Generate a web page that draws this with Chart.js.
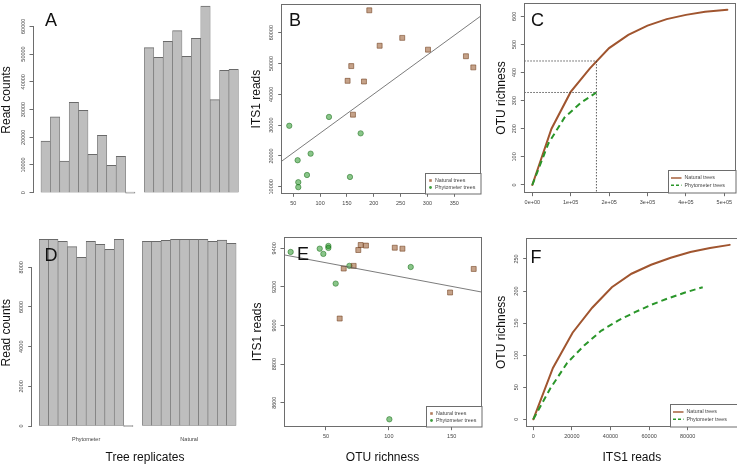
<!DOCTYPE html>
<html>
<head>
<meta charset="utf-8">
<title>Read counts, ITS1 reads and OTU richness</title>
<script src="https://cdn.jsdelivr.net/npm/chart.js@4.4.1/dist/chart.umd.min.js"></script>
<style>
  html, body { margin: 0; padding: 0; background: #fff; }
  body { position: relative; width: 737px; height: 465px; overflow: hidden; }
  canvas { position: absolute; }
  .tag { position: absolute; z-index: 2; font: 18px/18px "Liberation Sans", Arial, sans-serif; color: #111; }
</style>
</head>
<body>
<div class="tag" style="left:45px;top:10.7px">A</div>
<div class="tag" style="left:289px;top:11px">B</div>
<div class="tag" style="left:531px;top:11px">C</div>
<div class="tag" style="left:44.5px;top:246px">D</div>
<div class="tag" style="left:297px;top:244.5px">E</div>
<div class="tag" style="left:530.5px;top:247.5px">F</div>
<script>
// ---- data ----
const groups = ["Phytometer", "Natural"];
const series = ["Natural trees", "Phytometer trees"];

// A: raw read counts per tree (10th phytometer tree has no reads)
const readsPhytoA = [18630, 27400, 11420, 32570, 29690, 13820, 20670, 9860, 13100, 0];
const readsNaturalA = [52290, 48800, 54570, 58420, 49160, 55650, 67310, 33540, 44110, 44470];
const ticksA = [0, 10000, 20000, 30000, 40000, 50000, 60000];

// D: read counts after rarefying
const readsPhytoD = [9411, 9411, 9311, 9038, 8504, 9311, 9159, 8907, 9411, 0];
const readsNaturalD = [9311, 9311, 9361, 9411, 9411, 9411, 9411, 9311, 9376, 9210];
const ticksD = [0, 2000, 4000, 6000, 8000];

// B: OTU richness vs ITS1 reads (raw)
const otuNaturalB = [191.6, 253, 210.9, 301, 371.7, 385.4, 158, 151.2, 181.7, 161.2];
const itsNaturalB = [67240, 58300, 55750, 54480, 52350, 48730, 49150, 44370, 44150, 33400];
const otuPhytoB = [42.5, 116.5, 175.5, 82.3, 58.1, 75.5, 59.3, 59.3, 155.6];
const itsPhytoB = [29790, 32660, 27340, 20750, 18620, 13830, 11490, 9890, 13190];
const fitXB = [28.4, 399.2];
const fitYB = [18310, 65370];
const ticksBx = [50, 100, 150, 200, 250, 300, 350];
const ticksBy = [10000, 20000, 30000, 40000, 50000, 60000];

// C: rarefaction curves (raw)
const depthNaturalC = [0, 50000, 100000, 150000, 200000, 250000, 300000, 350000, 400000, 450000, 508000];
const otuNaturalC = [0, 200, 331, 415, 487, 534, 567, 590, 605, 616, 623];
const depthPhytoC = [0, 42000, 84000, 126000, 167000];
const otuPhytoC = [0, 148, 240, 292, 329];
const cutDepthC = 167000;
const cutNaturalC = 441;
const cutPhytoC = 329;
const ticksCx = [0, 100000, 200000, 300000, 400000, 500000];
const tickLabelsCx = ["0e+00", "1e+05", "2e+05", "3e+05", "4e+05", "5e+05"];
const ticksCy = [0, 100, 200, 300, 400, 500, 600];

// E: OTU richness vs ITS1 reads (rarefied)
const otuNaturalE = [77.6, 81.8, 75.7, 104.7, 110.8, 64.1, 72, 60.9, 148.7, 167.5];
const itsNaturalE = [9417, 9414, 9391, 9403, 9398, 9295, 9309, 9036, 9171, 9293];
const otuPhytoE = [21.9, 45, 47.9, 51.9, 51.9, 68.6, 57.7, 117.4, 100.4];
const itsPhytoE = [9381, 9398, 9371, 9412, 9402, 9309, 9217, 9303, 8514];
const fitXE = [16.6, 173.3];
const fitYE = [9366, 9174];
const ticksEx = [50, 100, 150];
const ticksEy = [8600, 8800, 9000, 9200, 9400];

// F: rarefaction curves (rarefied)
const depthNaturalF = [0, 10170, 20350, 30520, 40700, 50870, 61040, 71220, 81390, 91570, 101740];
const otuNaturalF = [0, 80, 135, 174, 206, 227, 241, 252, 261, 267, 272];
const depthPhytoF = [0, 8778, 17556, 26334, 35112, 43890, 52668, 61446, 70224, 79002, 87780];
const otuPhytoF = [0, 48, 88, 115, 138, 154, 167, 179, 189, 198, 206];
const ticksFx = [0, 20000, 40000, 60000, 80000];
const ticksFy = [0, 50, 100, 150, 200, 250];

// ---- styling ----
const FONT = '"Liberation Sans", Arial, sans-serif';
const INK = "#6d6d6d";
const LABEL = "#444";
const TITLE = "#111";
const TICK_SIZE = 5.5;
const TICK_LEN = 3.5;
const BAR_FILL = "#bebebe";
const BAR_EDGE = "#6a6a6a";
const NAT_FILL = "rgba(139, 69, 19, 0.5)";
const NAT_EDGE = "rgba(110, 60, 25, 0.7)";
const PHY_FILL = "rgba(20, 139, 20, 0.5)";
const PHY_EDGE = "rgba(10, 100, 10, 0.6)";
const BROWN = "#a0552f";
const GREEN = "#2a962a";

Chart.defaults.font.family = FONT;
Chart.defaults.animation = false;
Chart.defaults.responsive = false;

const measure = document.createElement("canvas").getContext("2d");
function textWidth(s, size) {
    measure.font = size + "px " + FONT;
    return measure.measureText(s).width;
}

function place(x, y, w, h) {
    const c = document.createElement("canvas");
    c.width = w;
    c.height = h;
    c.style.left = x + "px";
    c.style.top = y + "px";
    document.body.insertBefore(c, document.body.firstChild);
    return c;
}

const align = (chart, v) => Math.round(v - 0.5) + 0.5;

// box round the plot region
const frame = {
    id: "frame",
    afterDatasetsDraw(chart, args, o) {
        if (!o.on) return;
        const { ctx, chartArea: a } = chart;
        const l = align(chart, a.left), t = align(chart, a.top);
        ctx.save();
        ctx.strokeStyle = INK;
        ctx.lineWidth = 1;
        ctx.strokeRect(l, t, align(chart, a.right) - l, align(chart, a.bottom) - t);
        ctx.restore();
    },
};

// R style y axis line, first to last tick only
const spine = {
    id: "spine",
    afterDraw(chart, args, o) {
        if (!o.on) return;
        const { ctx, chartArea: a } = chart;
        const y = chart.scales.y;
        const t = y.ticks;
        const x = align(chart, a.left);
        ctx.save();
        ctx.strokeStyle = INK;
        ctx.lineWidth = 1;
        ctx.beginPath();
        ctx.moveTo(x, Math.round(y.getPixelForValue(t[0].value)));
        ctx.lineTo(x, Math.round(y.getPixelForValue(t[t.length - 1].value)));
        ctx.stroke();
        ctx.restore();
    },
};

// legend box in the bottom right corner of the plot
const key = {
    id: "key",
    afterDatasetsDraw(chart, args, o) {
        if (!o.items) return;
        const { ctx, chartArea: a } = chart;
        const x0 = Math.round(a.right - o.w) + 0.5;
        const y0 = Math.round(a.bottom - o.h) + 0.5;
        ctx.save();
        ctx.fillStyle = "#fff";
        ctx.fillRect(x0, y0, o.w, o.h);
        ctx.strokeStyle = INK;
        ctx.lineWidth = 1;
        ctx.strokeRect(x0, y0, o.w, o.h);
        ctx.font = o.size + "px " + FONT;
        ctx.textBaseline = "middle";
        ctx.textAlign = "left";
        o.items.forEach((it, i) => {
            const y = y0 + o.rows[i];
            if (it.kind === "line") {
                ctx.beginPath();
                ctx.setLineDash(it.dash || []);
                ctx.strokeStyle = it.color;
                ctx.lineWidth = 1.4;
                ctx.moveTo(x0 + o.line[0], y);
                ctx.lineTo(x0 + o.line[1], y);
                ctx.stroke();
                ctx.setLineDash([]);
            } else if (it.kind === "square") {
                ctx.fillStyle = it.color;
                ctx.fillRect(x0 + o.sym - 1.3, y - 1.3, 2.6, 2.6);
            } else {
                ctx.fillStyle = it.color;
                ctx.beginPath();
                ctx.arc(x0 + o.sym, y, 1.4, 0, Math.PI * 2);
                ctx.fill();
            }
            ctx.fillStyle = LABEL;
            ctx.fillText(it.label, x0 + o.text, y);
        });
        ctx.restore();
    },
};

function yAxis(min, max, ticks, title, titleX) {
    const shown = ticks.map(String);
    const widest = Math.max(...shown.map((s) => textWidth(s, TICK_SIZE)));
    return {
        type: "linear",
        position: "left",
        min: min,
        max: max,
        afterBuildTicks: (s) => { s.ticks = ticks.map((v) => ({ value: v })); },
        border: { display: false },
        grid: { drawOnChartArea: false, tickLength: TICK_LEN, color: INK, lineWidth: 1, offset: false },
        ticks: {
            minRotation: 90,
            maxRotation: 90,
            autoSkip: false,
            crossAlign: "center",
            padding: 10 - TICK_LEN - widest / 2,
            font: { size: TICK_SIZE },
            color: LABEL,
            callback: (v, i) => shown[i],
        },
        title: {
            display: !!title,
            text: title || "",
            color: TITLE,
            font: { size: 12 },
            padding: { top: titleX - 7.2, bottom: 0 },
        },
    };
}

function xAxis(min, max, ticks, labels, title, canvasH, opts) {
    const o = opts || {};
    const marks = o.marks !== false;
    const shown = labels || ticks.map(String);
    return {
        type: "linear",
        position: "bottom",
        min: min,
        max: max,
        offset: false,
        afterBuildTicks: (s) => { s.ticks = ticks.map((v) => ({ value: v })); },
        border: { display: false },
        grid: { display: marks, drawTicks: marks, drawOnChartArea: false, tickLength: TICK_LEN, color: INK, lineWidth: 1, offset: false },
        ticks: {
            display: o.labels !== false,
            minRotation: 0,
            maxRotation: 0,
            autoSkip: false,
            padding: o.pad !== undefined ? o.pad : 3.2,
            font: { size: TICK_SIZE },
            color: LABEL,
            callback: (v, i) => shown[i],
        },
        title: {
            display: !!title,
            text: title || "",
            color: TITLE,
            font: { size: 12 },
            padding: { top: 0, bottom: canvasH - 228 - 7.2 },
        },
    };
}

// rect: canvas [left, top, width, height]; area: plot box [left, top, right, bottom] inside it
function makeChart(rect, area, type, datasets, x, y, extra) {
    const c = place(rect[0], rect[1], rect[2], rect[3]);
    x.afterFit = (s) => { s.height = rect[3] - area[3]; s.paddingLeft = 0; s.paddingRight = 0; };
    y.afterFit = (s) => { s.width = area[0]; s.paddingTop = 0; s.paddingBottom = 0; };
    return new Chart(c, {
        type: type,
        data: { datasets: datasets },
        options: {
            layout: { padding: { left: 0, top: area[1], right: rect[2] - area[2], bottom: 0 } },
            scales: { x: x, y: y },
            plugins: Object.assign({ legend: { display: false }, tooltip: { enabled: false } }, extra),
        },
        plugins: [frame, spine, key],
    });
}

const pts = (xs, ys) => xs.map((v, i) => ({ x: v, y: ys[i] }));

function barData(phyto, natural) {
    // replicates sit in slots, one empty slot between the two groups
    return phyto.map((v, i) => ({ x: i, y: v }))
        .concat(natural.map((v, i) => ({ x: phyto.length + 1 + i, y: v })));
}

function barSet(phyto, natural) {
    return {
        data: barData(phyto, natural),
        backgroundColor: BAR_FILL,
        borderColor: BAR_EDGE,
        borderWidth: { top: 1, left: 0.6, right: 0.6, bottom: 0.6 },
        borderSkipped: false,
        barPercentage: 1,
        categoryPercentage: 1,
        minBarLength: 1,
    };
}

function dotSets(xN, yN, xP, yP, fitX, fitY) {
    return [
        { type: "line", data: pts(fitX, fitY), borderColor: "#5a5a5a", borderWidth: 0.8, pointRadius: 0 },
        { data: pts(xN, yN), pointStyle: "rect", pointRadius: 3.5, backgroundColor: NAT_FILL, borderColor: NAT_EDGE, borderWidth: 0.8 },
        { data: pts(xP, yP), pointStyle: "circle", pointRadius: 2.7, backgroundColor: PHY_FILL, borderColor: PHY_EDGE, borderWidth: 0.8 },
    ];
}

const dotKey = {
    w: 55.5, h: 20.5, rows: [7, 14], sym: 5, text: 9.5, size: 5.3,
    items: [
        { label: series[0], kind: "square", color: "#b27c5c" },
        { label: series[1], kind: "circle", color: "#3f9f3f" },
    ],
};
const lineKey = {
    w: 67.5, h: 22.5, rows: [7.5, 14.8], line: [2.5, 13], text: 16, size: 5.3,
    items: [
        { label: series[0], kind: "line", color: BROWN },
        { label: series[1], kind: "line", color: GREEN, dash: [3, 2] },
    ],
};

function curveSets(xN, yN, xP, yP) {
    return [
        { data: pts(xP, yP), borderColor: GREEN, borderWidth: 2, borderDash: [6, 4], pointRadius: 0, tension: 0 },
        { data: pts(xN, yN), borderColor: BROWN, borderWidth: 2, borderCapStyle: "round", pointRadius: 0, tension: 0 },
    ];
}

// ---- A ----
makeChart([0, 0, 245, 230], [33, 0, 241, 200], "bar",
    [barSet(readsPhytoA, readsNaturalA)],
    xAxis(-1.35, 20.78, [], [], "", 230, { marks: false, labels: false }),
    yAxis(-2632, 69484, ticksA, "Read counts", 7),
    { spine: { on: true } });

// ---- D ----
const groupCentres = [(readsPhytoD.length - 1) / 2, readsPhytoD.length + 1 + (readsNaturalD.length - 1) / 2];
makeChart([0, 230, 262, 235], [31.7, 2, 258.3, 203.5], "bar",
    [barSet(readsPhytoD, readsNaturalD)],
    xAxis(-1.31, 22.87, groupCentres, groups, "Tree replicates", 235, { marks: false, pad: 2.5 }),
    yAxis(-378, 9779, ticksD, "Read counts", 7),
    { spine: { on: true } });

// ---- B ----
makeChart([245, 0, 245, 230], [36.7, 1.7, 235.7, 193.3], "scatter",
    dotSets(otuNaturalB, itsNaturalB, otuPhytoB, itsPhytoB, fitXB, fitYB),
    xAxis(28.4, 399.2, ticksBx, null, "", 230),
    yAxis(7894, 69030, ticksBy, "ITS1 reads", 12),
    { frame: { on: true }, key: dotKey });

// ---- E ----
makeChart([245, 230, 245, 235], [39, 7, 236, 196.7], "scatter",
    dotSets(otuNaturalE, itsNaturalE, otuPhytoE, itsPhytoE, fitXE, fitYE),
    xAxis(16.6, 173.3, ticksEx, null, "OTU richness", 235),
    yAxis(8475.6, 9458.5, ticksEy, "ITS1 reads", 13),
    { frame: { on: true }, key: dotKey });

// ---- C ----
const xMinC = -20833, xMaxC = 529170, yMinC = -27.4, yMaxC = 646.2;
const guide = { borderColor: "#333", borderWidth: 0.8, borderDash: [1.5, 1.5], pointRadius: 0 };
makeChart([490, 0, 247, 230], [34.3, 3.3, 245.5, 192.7], "line",
    [
        Object.assign({ data: pts([xMinC, cutDepthC], [cutNaturalC, cutNaturalC]) }, guide),
        Object.assign({ data: pts([xMinC, cutDepthC], [cutPhytoC, cutPhytoC]) }, guide),
        Object.assign({ data: pts([cutDepthC, cutDepthC], [cutNaturalC, yMinC]) }, guide),
    ].concat(curveSets(depthNaturalC, otuNaturalC, depthPhytoC, otuPhytoC)),
    xAxis(xMinC, xMaxC, ticksCx, tickLabelsCx, "", 230),
    yAxis(yMinC, yMaxC, ticksCy, "OTU richness", 12),
    { frame: { on: true }, key: lineKey });

// ---- F ----
makeChart([490, 230, 247, 235], [36.7, 8, 247, 196.7], "line",
    curveSets(depthNaturalF, otuNaturalF, depthPhytoF, otuPhytoF),
    xAxis(-3420, 105540, ticksFx, null, "ITS1 reads", 235),
    yAxis(-11.5, 282.7, ticksFy, "OTU richness", 12),
    { frame: { on: true }, key: lineKey });
</script>
</body>
</html>
